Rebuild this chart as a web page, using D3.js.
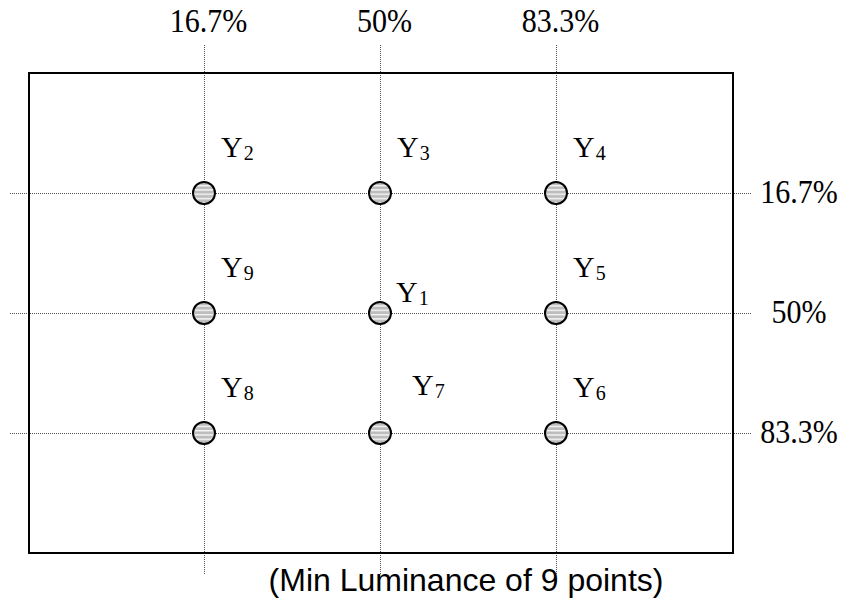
<!DOCTYPE html>
<html>
<head>
<meta charset="utf-8">
<script src="https://cdn.jsdelivr.net/npm/d3@7"></script>
<style>
  html, body { margin: 0; padding: 0; background: #fff; }
  svg { display: block; }
</style>
</head>
<body>
<svg id="chart" width="844" height="599"></svg>
<script>
// ---- data ----
const xTickValues = [16.7, 50, 83.3];
const xTickLabels = ["16.7%", "50%", "83.3%"];
const yTickValues = [16.7, 50, 83.3];
const yTickLabels = ["16.7%", "50%", "83.3%"];
const pointNames = ["1", "2", "3", "4", "5", "6", "7", "8", "9"];
const pointX = [50, 16.7, 50, 83.3, 83.3, 83.3, 50, 16.7, 16.7];
const pointY = [50, 16.7, 16.7, 16.7, 50, 83.3, 83.3, 83.3, 50];
const caption = "(Min Luminance of 9 points)";

// ---- layout ----
const svg = d3.select("#chart");
const x = d3.scaleLinear().domain([16.7, 83.3]).range([204, 556]);
const y = d3.scaleLinear().domain([16.7, 83.3]).range([193, 433]);
const serif = "'Liberation Serif', 'Times New Roman', serif";
const sans = "'Liberation Sans', Arial, sans-serif";

function condense(sel, k) {
  sel.each(function () {
    const w = this.getComputedTextLength();
    d3.select(this).attr("textLength", w * k).attr("lengthAdjust", "spacingAndGlyphs");
  });
}

// stripe pattern for markers
const defs = svg.append("defs");
const pat = defs.append("pattern")
  .attr("id", "stripes").attr("patternUnits", "userSpaceOnUse")
  .attr("width", 8).attr("height", 4.3);
pat.append("rect").attr("width", 8).attr("height", 4.3).attr("fill", "#bdbdbd");
pat.append("rect").attr("y", 0).attr("width", 8).attr("height", 1.4).attr("fill", "#f6f6f6");

// top axis with dotted vertical grid lines
const topY = 45, bottomY = 575;
const xAxis = d3.axisTop(x)
  .tickValues(xTickValues)
  .tickFormat((d, i) => xTickLabels[i])
  .tickSize(-(bottomY - topY))
  .tickPadding(13);
const gx = svg.append("g").attr("transform", `translate(0,${topY})`).call(xAxis);
gx.select(".domain").remove();
gx.selectAll(".tick line")
  .attr("stroke", "#555").attr("stroke-width", 1).attr("stroke-dasharray", "1,1");
gx.selectAll(".tick text")
  .attr("font-family", serif).attr("font-size", 33).attr("fill", "#000")
  .attr("dx", 4);
condense(gx.selectAll(".tick text"), 0.91);

// right axis with dotted horizontal grid lines
const rightX = 751, leftX = 10;
const yAxis = d3.axisRight(y)
  .tickValues(yTickValues)
  .tickFormat((d, i) => yTickLabels[i])
  .tickSize(-(rightX - leftX))
  .tickPadding(0);
const gy = svg.append("g").attr("transform", `translate(${rightX},0)`).call(yAxis);
gy.select(".domain").remove();
gy.selectAll(".tick line")
  .attr("stroke", "#555").attr("stroke-width", 1).attr("stroke-dasharray", "1,1");
gy.selectAll(".tick text")
  .attr("font-family", serif).attr("font-size", 33).attr("fill", "#000")
  .attr("text-anchor", "middle").attr("x", 48).attr("dy", "0.3em");
condense(gy.selectAll(".tick text"), 0.91);

// frame
svg.append("rect")
  .attr("x", 29).attr("y", 73).attr("width", 704).attr("height", 480)
  .attr("fill", "none").attr("stroke", "#000").attr("stroke-width", 2);

// points
const pts = pointNames.map((n, i) => ({ name: n, x: pointX[i], y: pointY[i] }));
svg.append("g").selectAll("circle").data(pts).join("circle")
  .attr("cx", d => x(d.x)).attr("cy", d => y(d.y)).attr("r", 11)
  .attr("fill", "url(#stripes)").attr("stroke", "#000").attr("stroke-width", 2);

// labels (Y with subscript)
const labelOffset = n => n === "1" ? [16, -11] : (n === "7" ? [32, -38] : [17, -36]);
const lt = svg.append("g").selectAll("text").data(pts).join("text")
  .attr("x", d => x(d.x) + labelOffset(d.name)[0])
  .attr("y", d => y(d.y) + labelOffset(d.name)[1])
  .attr("font-family", serif).attr("font-size", 30).attr("fill", "#000");
lt.append("tspan").text("Y");
lt.append("tspan")
  .attr("dx", 1).attr("dy", 3)
  .attr("font-size", 20)
  .text(d => d.name);

// caption
svg.append("text")
  .attr("x", 466).attr("y", 591)
  .attr("text-anchor", "middle")
  .attr("font-family", sans).attr("font-size", 32).attr("fill", "#000")
  .text(caption);
</script>
</body>
</html>
